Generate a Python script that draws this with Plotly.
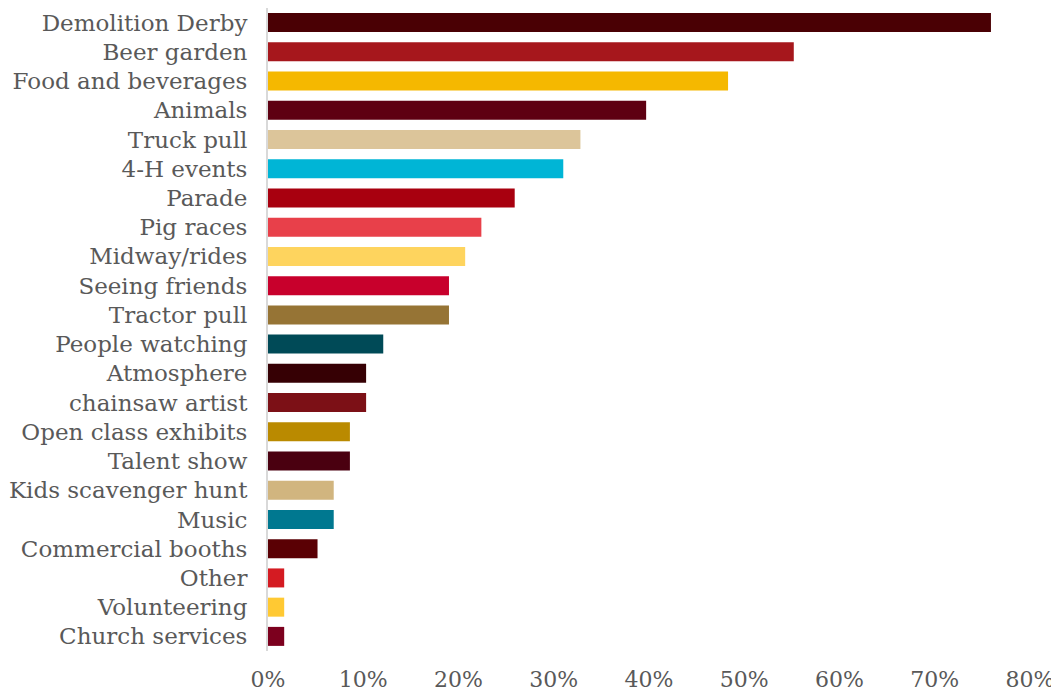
import plotly.graph_objects as go

categories = ["Demolition Derby", "Beer garden", "Food and beverages", "Animals",
              "Truck pull", "4-H events", "Parade", "Pig races", "Midway/rides",
              "Seeing friends", "Tractor pull", "People watching", "Atmosphere",
              "chainsaw artist", "Open class exhibits", "Talent show",
              "Kids scavenger hunt", "Music", "Commercial booths", "Other",
              "Volunteering", "Church services"]
values = [0.759, 0.552, 0.483, 0.397, 0.328, 0.310, 0.259, 0.224, 0.207,
          0.190, 0.190, 0.121, 0.103, 0.103, 0.086, 0.086, 0.069, 0.069,
          0.052, 0.017, 0.017, 0.017]
colors = ["#4a0004", "#a6171c", "#f5b800", "#5e0012", "#dcc59a", "#00b5d6",
          "#a8000f", "#e8404a", "#fed45e", "#c8002c", "#967435", "#004a57",
          "#360004", "#7c1016", "#ba8a00", "#4a0010", "#d1b57f", "#007890",
          "#5a0004", "#d41b22", "#ffc933", "#7c001e"]
tick_vals = [0, 0.1, 0.2, 0.3, 0.4, 0.5, 0.6, 0.7, 0.8]
tick_text = ["0%", "10%", "20%", "30%", "40%", "50%", "60%", "70%", "80%"]

font_family = "DejaVu Serif"
text_color = "#595959"

fig = go.Figure(go.Bar(
    x=values, y=categories, orientation="h",
    marker=dict(color=colors, line=dict(width=0)),
    hoverinfo="x+y",
))

fig.update_layout(
    width=1051, height=685,
    margin=dict(l=260, r=29, t=0, b=42, autoexpand=False),
    paper_bgcolor="white", plot_bgcolor="white",
    bargap=0.35,
    showlegend=False,
    font=dict(family=font_family, size=23, color=text_color),
)
fig.update_xaxes(
    range=[0, 0.8], tickvals=tick_vals, ticktext=tick_text,
    showgrid=False, zeroline=False, showline=False, ticks="",
    tickfont=dict(family=font_family, size=22, color=text_color),
    ticklabelstandoff=13, automargin=False,
)
fig.update_yaxes(
    autorange="reversed", showgrid=False, zeroline=False,
    showline=True, linecolor="#d9d9d9", linewidth=2, ticks="",
    tickfont=dict(family=font_family, size=23, color=text_color),
    ticklabelstandoff=14, automargin=False,
)

fig.write_html("out.html")
